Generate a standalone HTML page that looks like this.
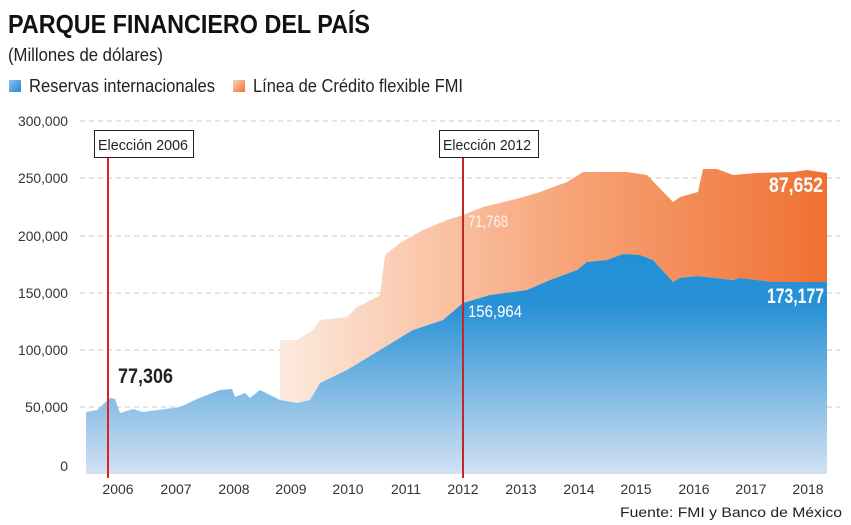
<!DOCTYPE html>
<html><head><meta charset="utf-8"><style>
body{margin:0;background:#fff;width:851px;height:525px;overflow:hidden;font-family:"Liberation Sans",sans-serif;}
svg{position:absolute;left:0;top:0}
</style></head><body>
<svg width="851" height="525" viewBox="0 0 851 525">
<defs>
<linearGradient id="bl" gradientUnits="userSpaceOnUse" x1="0" y1="250" x2="0" y2="474">
<stop offset="0" stop-color="#2290d6"/><stop offset="0.25" stop-color="#2891d6"/><stop offset="1" stop-color="#d3e1f3"/></linearGradient>
<linearGradient id="or" gradientUnits="userSpaceOnUse" x1="278" y1="0" x2="828" y2="0">
<stop offset="0" stop-color="#fdebe0"/><stop offset="0.5" stop-color="#f7a77c"/><stop offset="1" stop-color="#f07032"/></linearGradient>
<linearGradient id="lg1" x1="0" y1="0" x2="1" y2="1"><stop offset="0" stop-color="#8fc0ea"/><stop offset="1" stop-color="#1f88d2"/></linearGradient>
<linearGradient id="lg2" x1="0" y1="0" x2="1" y2="1"><stop offset="0" stop-color="#fbd2bc"/><stop offset="1" stop-color="#f07032"/></linearGradient>
</defs>
<text x="8" y="33" font-size="26" font-weight="bold" fill="#111" textLength="362" lengthAdjust="spacingAndGlyphs">PARQUE FINANCIERO DEL PAÍS</text>
<text x="8" y="61" font-size="18" fill="#222" textLength="155" lengthAdjust="spacingAndGlyphs">(Millones de dólares)</text>
<rect x="9" y="80" width="12" height="12" fill="url(#lg1)"/>
<text x="29" y="92" font-size="18" fill="#222" textLength="186" lengthAdjust="spacingAndGlyphs">Reservas internacionales</text>
<rect x="233" y="80" width="12" height="12" fill="url(#lg2)"/>
<text x="253" y="92" font-size="18" fill="#222" textLength="210" lengthAdjust="spacingAndGlyphs">Línea de Crédito flexible FMI</text>
<g stroke="#c8c8c8" stroke-dasharray="5,4" stroke-width="1">
<line x1="80" x2="840" y1="121" y2="121"/><line x1="80" x2="840" y1="178" y2="178"/><line x1="80" x2="840" y1="236" y2="236"/><line x1="80" x2="840" y1="293" y2="293"/><line x1="80" x2="840" y1="350" y2="350"/><line x1="80" x2="840" y1="407" y2="407"/></g>
<g font-size="14" fill="#333" text-anchor="end">
<text x="68" y="126" textLength="50" lengthAdjust="spacingAndGlyphs">300,000</text><text x="68" y="183" textLength="50" lengthAdjust="spacingAndGlyphs">250,000</text><text x="68" y="241" textLength="50" lengthAdjust="spacingAndGlyphs">200,000</text><text x="68" y="298" textLength="50" lengthAdjust="spacingAndGlyphs">150,000</text><text x="68" y="355" textLength="50" lengthAdjust="spacingAndGlyphs">100,000</text><text x="68" y="412" textLength="43" lengthAdjust="spacingAndGlyphs">50,000</text><text x="68" y="471">0</text></g>
<polygon fill="url(#or)" points="280,400 280,340 297,340 313,330 320,320 347,317 357,307 377,297 380,295 385,255 400,243 423,230 447,220 463,215 483,207 520,198 540,192 567,182 583,172 600,172 627,172 647,175 673,202 680,197 698,192 703,169 717,169 733,175 757,173 793,172 807,170 827,173 827,282 773,282 740,278 733,280 697,276 680,278 673,282 653,260 640,255 623,254 607,260 587,262 577,270 550,280 527,290 490,295 463,303 443,320 413,330 380,350 347,370 320,383 310,400 297,403"/>
<polygon fill="url(#bl)" points="86,474 86,412 97,410 110,398 115,399 120,413 133,409 143,412 180,407 197,399 220,390 232,389 235,397 245,393 250,398 260,390 280,400 297,403 310,400 320,383 347,370 380,350 413,330 443,320 463,303 490,295 527,290 550,280 577,270 587,262 607,260 623,254 640,255 653,260 673,282 680,278 697,276 733,280 740,278 773,282 827,282 827,474"/>
<line x1="108" y1="158" x2="108" y2="478" stroke="#e02020" stroke-width="2"/>
<line x1="463" y1="158" x2="463" y2="478" stroke="#c02828" stroke-width="2"/>
<rect x="94.5" y="130.5" width="99" height="27" fill="#fff" stroke="#222"/>
<text x="98" y="150" font-size="15" fill="#222" textLength="90" lengthAdjust="spacingAndGlyphs">Elección 2006</text>
<rect x="439.5" y="130.5" width="99" height="27" fill="#fff" stroke="#222"/>
<text x="443" y="150" font-size="15" fill="#222" textLength="88" lengthAdjust="spacingAndGlyphs">Elección 2012</text>
<text x="118" y="383" font-size="21" font-weight="bold" fill="#222" textLength="55" lengthAdjust="spacingAndGlyphs">77,306</text>
<text x="468" y="227" font-size="17" fill="#fff" opacity="0.85" textLength="40" lengthAdjust="spacingAndGlyphs">71,768</text>
<text x="468" y="317" font-size="17" fill="#fff" textLength="54" lengthAdjust="spacingAndGlyphs">156,964</text>
<text x="769" y="192" font-size="21" font-weight="bold" fill="#fff" textLength="54" lengthAdjust="spacingAndGlyphs">87,652</text>
<text x="767" y="303" font-size="21" font-weight="bold" fill="#fff" textLength="57" lengthAdjust="spacingAndGlyphs">173,177</text>
<g font-size="14" fill="#333" text-anchor="middle">
<text x="118" y="494">2006</text><text x="176" y="494">2007</text><text x="234" y="494">2008</text><text x="291" y="494">2009</text><text x="348" y="494">2010</text><text x="406" y="494">2011</text><text x="463" y="494">2012</text><text x="521" y="494">2013</text><text x="579" y="494">2014</text><text x="636" y="494">2015</text><text x="694" y="494">2016</text><text x="751" y="494">2017</text><text x="808" y="494">2018</text></g>
<text x="842" y="517" font-size="14" fill="#222" text-anchor="end" textLength="222" lengthAdjust="spacingAndGlyphs">Fuente: FMI y Banco de México</text>
</svg>
</body></html>
